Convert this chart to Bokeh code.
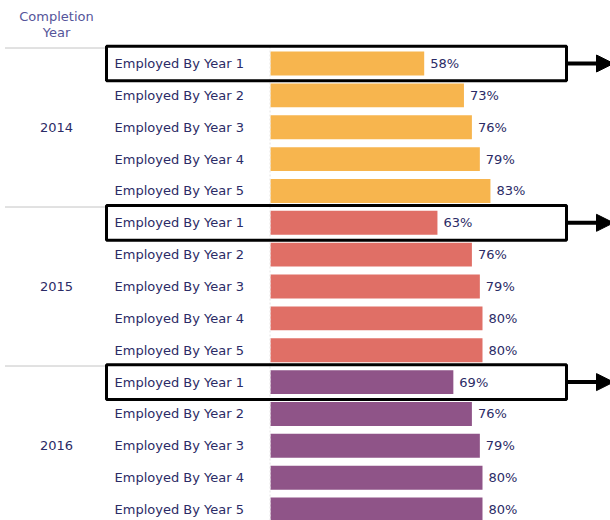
import math
from bokeh.plotting import figure
from bokeh.models import Range1d, Arrow, NormalHead, ColumnDataSource
from bokeh.embed import file_html
from bokeh.resources import INLINE
from bokeh.core.properties import value

# ---- data ----
years = ["2014", "2015", "2016"]
categories = ["Employed By Year 1", "Employed By Year 2", "Employed By Year 3",
              "Employed By Year 4", "Employed By Year 5"]
rates_2014 = [58, 73, 76, 79, 83]
rates_2015 = [63, 76, 79, 80, 80]
rates_2016 = [69, 76, 79, 80, 80]
header = ["Completion", "Year"]

year_colors = ["#F7B54E", "#E06F66", "#8F5488"]
all_rates = [rates_2014, rates_2015, rates_2016]

# ---- layout helpers (pixel -> data) ----
X0, XS = 270.0, 2.65       # px of 0%, px per 1%
Y0, YS = 63.0, 31.86       # px of row 0 centre, px per row
W, H = 610, 520
def sx(px):
    return (px - X0) / XS
def sy(px):
    return (px - Y0) / YS

FONT = "DejaVu Sans"
TXT = "#2b2b66"

p = figure(width=W, height=H, output_backend="svg", toolbar_location=None,
           x_range=Range1d(sx(0), sx(W)), y_range=Range1d(sy(H), sy(0)),
           min_border=0, outline_line_color=None)
p.axis.visible = False
p.xgrid.visible = False
p.ygrid.visible = False

rows, labels, vals, cols, vtxt = [], [], [], [], []
for g, (yr, rates) in enumerate(zip(years, all_rates)):
    for k, (cat, v) in enumerate(zip(categories, rates)):
        r = g * len(categories) + k
        rows.append(r)
        labels.append(cat)
        vals.append(v)
        cols.append(year_colors[g])
        vtxt.append(f"{v}%")

src = ColumnDataSource(dict(y=rows, label=labels, v=vals, c=cols, vt=vtxt))

# bars
p.hbar(y="y", left=0, right="v", height=0.75, fill_color="c", line_color=None, source=src)

# faint axis line at bar start
p.segment(x0=sx(269.5), y0=sy(46), x1=sx(269.5), y1=sy(520), line_color="#e4e4e4",
          line_width=1, line_dash="2 2")

# category labels
p.text(x=sx(114), y="y", text="label", source=src, text_font=value(FONT),
       text_font_size="13px", text_color=TXT, text_baseline="middle", text_align="left")

# value labels
p.text(x="v", y="y", text="vt", source=src, x_offset=6, text_font=value(FONT),
       text_font_size="13px", text_color=TXT, text_baseline="middle", text_align="left")

# year labels, separators, highlight boxes, arrows
n = len(categories)
year_y = [g * n + 2 for g in range(len(years))]
p.text(x=[sx(56)] * len(years), y=year_y, text=years, text_font=value(FONT),
       text_font_size="13px", text_color=TXT, text_baseline="middle", text_align="center")

for g in range(len(years)):
    r0 = g * n
    top_px = math.floor(Y0 + YS * (r0 - 0.5)) + 0.5
    p.segment(x0=sx(5), y0=sy(top_px), x1=sx(107), y1=sy(top_px), line_color="#888888",
              line_width=1, line_dash="1 1")
    p.quad(left=sx(106), right=sx(566), top=r0 - 0.545, bottom=r0 + 0.545,
           fill_alpha=0, line_color="black", line_width=3)
    p.add_layout(Arrow(x_start=sx(566), y_start=r0, x_end=sx(613), y_end=r0,
                       line_color="black", line_width=4,
                       end=NormalHead(size=17, fill_color="black", line_color="black",
                                      line_width=1)))

# header
p.text(x=[sx(56), sx(56)], y=[sy(16), sy(32)], text=header, text_font=value(FONT),
       text_font_size="13px", text_color="#55559a", text_baseline="middle", text_align="center")

open("out.html", "w").write(file_html(p, INLINE))
